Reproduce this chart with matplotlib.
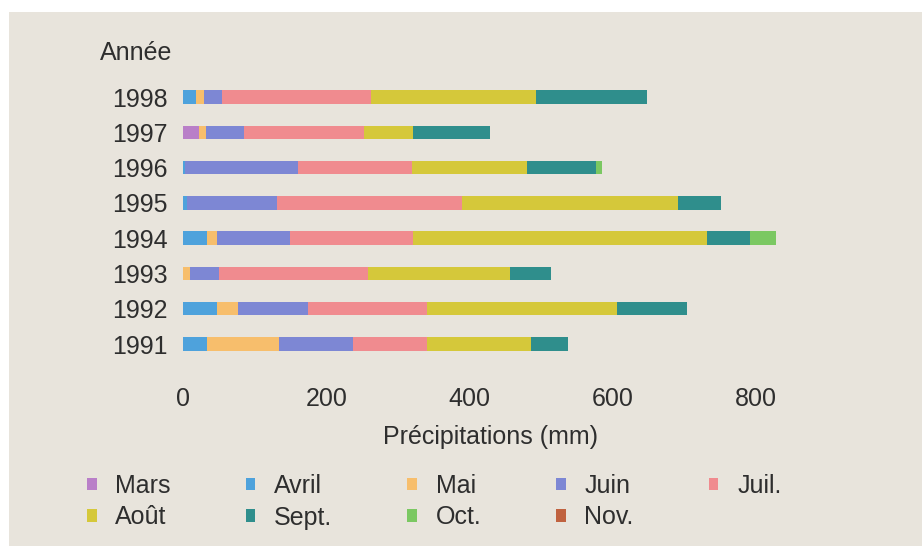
import matplotlib.pyplot as plt
from matplotlib.patches import Rectangle

plt.rcParams['font.family'] = ['Liberation Sans', 'DejaVu Sans']

annees = ['1991', '1992', '1993', '1994', '1995', '1996', '1997', '1998']

# précipitations mensuelles (mm), une valeur par année ci-dessus
mars = [0, 0, 0, 0, 0, 0, 23, 0]
avril = [33, 47, 0, 34, 6, 3, 0, 18]
mai = [101, 30, 10, 13, 0, 0, 9, 12]
juin = [103, 98, 41, 102, 125, 157, 53, 24]
juil = [104, 165, 207, 172, 258, 159, 167, 209]
aout = [144, 266, 198, 410, 302, 161, 69, 230]
sept = [52, 97, 58, 60, 60, 96, 107, 154]
octo = [0, 0, 0, 36, 0, 9, 0, 0]
nov = [0, 0, 0, 0, 0, 0, 0, 0]

mois = ['Mars', 'Avril', 'Mai', 'Juin', 'Juil.', 'Août', 'Sept.', 'Oct.', 'Nov.']
series = [mars, avril, mai, juin, juil, aout, sept, octo, nov]
couleurs = ['#b97fc8', '#4ea2dc', '#f7be6c', '#7d87d4', '#f08b8f',
            '#d5c83a', '#2f8e8c', '#7bc862', '#c0623f']

texte = '#2e2e2e'
taille = 18

fig = plt.figure(figsize=(9.22, 5.46), dpi=100, facecolor='white')
fig.add_artist(Rectangle((9 / 922, 0), 1, 1 - 12 / 546, transform=fig.transFigure,
                         facecolor='#e8e4dc', edgecolor='none', zorder=-10))

ax = fig.add_axes([180 / 922, 0.3311, 648 / 922, 0.530])
ax.set_facecolor('none')

y = list(range(len(annees)))
gauche = [0] * len(annees)
barres = []
for nom, vals, c in zip(mois, series, couleurs):
    b = ax.barh(y, vals, left=gauche, height=0.38, color=c, label=nom)
    barres.append(b)
    gauche = [g + v for g, v in zip(gauche, vals)]

ax.set_xlim(-4, 900)
ax.set_ylim(-0.6, 7.6)
ax.set_yticks(y)
ax.set_yticklabels(annees)
ax.set_xticks([0, 200, 400, 600, 800])
ax.tick_params(axis='both', length=0, labelsize=taille, colors=texte)
ax.tick_params(axis='x', pad=16)
ax.tick_params(axis='y', pad=9)
for s in ax.spines.values():
    s.set_visible(False)

fig.text(100 / 922, 1 - 53 / 546, 'Année', fontsize=taille, color=texte, va='center', ha='left')
fig.text(490 / 922, 1 - 437 / 546, 'Précipitations (mm)', fontsize=taille, color=texte,
         va='center', ha='center')

# la légende se lit ligne par ligne, matplotlib remplit par colonnes
ordre = [0, 5, 1, 6, 2, 7, 3, 8, 4]
fig.legend([barres[i] for i in ordre], [mois[i] for i in ordre], ncol=5, loc='upper left',
           bbox_to_anchor=(87 / 922, 1 - 474 / 546),
           frameon=False, fontsize=taille, labelcolor=texte, borderpad=0, borderaxespad=0,
           handlelength=0.38, handleheight=0.38, handletextpad=0.75,
           columnspacing=3.0, labelspacing=0.3)

plt.savefig('out.png', dpi=100, facecolor='white')
